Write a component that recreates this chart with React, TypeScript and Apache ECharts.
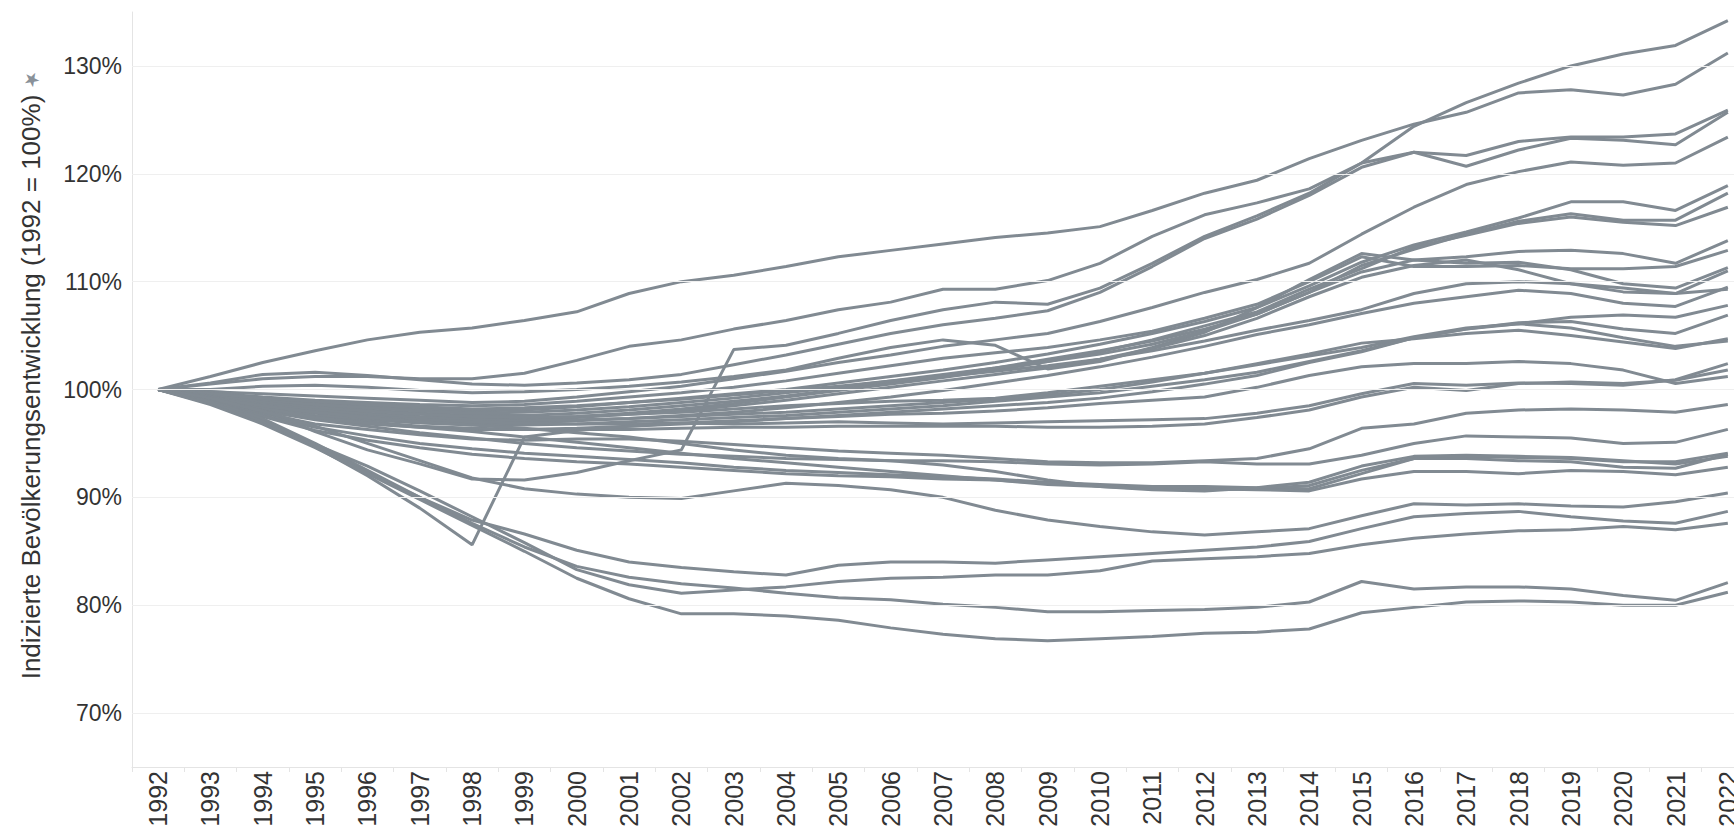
import React, { useEffect, useRef } from "react";
import * as echarts from "echarts";

const years = ["1992","1993","1994","1995","1996","1997","1998","1999","2000","2001","2002","2003","2004","2005","2006","2007","2008","2009","2010","2011","2012","2013","2014","2015","2016","2017","2018","2019","2020","2021","2022"];
const gridValues = [70, 80, 90, 100, 110, 120, 130];

const lineA = [100, 101.2, 102.5, 103.6, 104.6, 105.3, 105.7, 106.4, 107.2, 108.9, 110.0, 110.6, 111.4, 112.3, 112.9, 113.5, 114.1, 114.5, 115.1, 116.6, 118.2, 119.4, 121.4, 123.1, 124.6, 125.7, 127.5, 127.8, 127.3, 128.3, 131.2];
const lineB = [100, 99.3, 98.1, 96.1, 94.4, 93.1, 91.7, 91.6, 92.3, 93.4, 94.4, 103.7, 104.1, 105.2, 106.4, 107.4, 108.1, 107.9, 109.4, 111.7, 114.2, 116.1, 118.2, 121.0, 124.4, 126.6, 128.4, 130.0, 131.1, 131.9, 134.2];
const lineC = [100, 100.5, 101.0, 101.2, 101.2, 101.0, 101.0, 101.5, 102.7, 104.0, 104.6, 105.6, 106.4, 107.4, 108.1, 109.3, 109.3, 110.1, 111.7, 114.2, 116.2, 117.3, 118.6, 121.0, 122.0, 121.7, 123.0, 123.4, 123.4, 123.7, 125.9];
const lineD = [100, 100.6, 101.4, 101.6, 101.3, 100.9, 100.5, 100.4, 100.6, 100.9, 101.4, 102.3, 103.2, 104.2, 105.2, 106.0, 106.6, 107.3, 109.0, 111.4, 114.0, 115.8, 118.0, 120.6, 122.0, 120.7, 122.2, 123.3, 123.1, 122.7, 125.7];
const lineE = [100, 99.8, 99.6, 99.4, 99.2, 99.0, 98.8, 98.9, 99.3, 99.8, 100.3, 101.0, 101.7, 102.5, 103.2, 104.0, 104.6, 105.2, 106.3, 107.6, 109.0, 110.2, 111.7, 114.4, 116.9, 119.0, 120.2, 121.1, 120.8, 121.0, 123.4];
const lineF = [100, 99.6, 99.1, 98.8, 98.5, 98.2, 98.0, 98.1, 98.4, 98.8, 99.2, 99.6, 100.0, 100.6, 101.2, 101.8, 102.5, 103.3, 104.2, 105.2, 106.3, 107.6, 109.6, 111.8, 113.4, 114.6, 115.9, 117.4, 117.4, 116.6, 118.9];
const lineG = [100, 99.5, 98.9, 98.5, 98.1, 97.8, 97.6, 97.6, 97.8, 98.1, 98.5, 98.9, 99.4, 100.0, 100.6, 101.3, 102.0, 102.8, 103.6, 104.5, 105.6, 107.0, 109.0, 111.5, 113.0, 114.4, 115.6, 116.3, 115.7, 115.7, 118.2];
const lineH = [100, 99.4, 98.7, 98.2, 97.8, 97.5, 97.3, 97.3, 97.5, 97.8, 98.2, 98.7, 99.3, 99.9, 100.5, 101.1, 101.8, 102.6, 103.5, 104.6, 105.9, 107.2, 109.3, 111.2, 113.2, 114.3, 115.4, 116.0, 115.5, 115.2, 116.9];
const lineI = [100, 100.0, 100.3, 100.4, 100.2, 99.9, 99.7, 99.8, 100.0, 100.3, 100.7, 101.2, 101.8, 102.9, 103.9, 104.6, 104.1, 101.9, 102.6, 103.9, 105.3, 107.6, 110.2, 112.6, 112.0, 112.3, 112.8, 112.9, 112.6, 111.7, 113.8];
const lineJ = [100, 99.7, 99.3, 99.0, 98.8, 98.6, 98.5, 98.6, 98.9, 99.3, 99.7, 100.2, 100.8, 101.5, 102.2, 102.9, 103.4, 103.9, 104.6, 105.4, 106.6, 107.9, 110.0, 112.3, 111.4, 111.4, 111.5, 111.2, 111.2, 111.4, 112.9];
const lineK = [100, 99.5, 99.0, 98.6, 98.3, 98.0, 97.8, 97.9, 98.1, 98.4, 98.8, 99.2, 99.7, 100.2, 100.8, 101.4, 102.0, 102.6, 103.3, 104.2, 105.4, 107.0, 109.0, 110.9, 112.0, 111.7, 111.8, 111.1, 109.8, 109.4, 111.3];
const lineK2 = [100, 99.3, 98.6, 98.0, 97.6, 97.3, 97.1, 97.2, 97.4, 97.7, 98.0, 98.5, 99.0, 99.6, 100.2, 100.8, 101.4, 102.0, 102.8, 103.8, 105.0, 106.6, 108.6, 110.4, 111.5, 112.0, 111.1, 109.8, 109.4, 108.9, 111.0];
const lineL = [100, 99.2, 98.4, 97.8, 97.4, 97.1, 96.9, 96.9, 97.1, 97.3, 97.6, 97.9, 98.3, 98.8, 99.3, 99.9, 100.6, 101.3, 102.1, 103.0, 104.0, 105.1, 106.0, 107.05, 108.0, 108.6, 109.2, 108.9, 108.0, 107.7, 109.5];
const lineL2 = [100, 99.6, 99.2, 98.9, 98.6, 98.4, 98.2, 98.3, 98.5, 98.8, 99.1, 99.5, 99.9, 100.3, 100.8, 101.2, 101.7, 102.2, 102.8, 103.6, 104.5, 105.5, 106.4, 107.4, 108.9, 109.8, 110.0, 109.8, 109.05, 108.9, 109.3];
const lineM = [100, 99.4, 98.8, 98.3, 98.0, 97.7, 97.5, 97.4, 97.5, 97.7, 97.9, 98.2, 98.5, 98.7, 98.9, 99.0, 99.2, 99.7, 100.3, 100.9, 101.5, 102.3, 103.1, 103.9, 104.9, 105.7, 106.1, 106.7, 106.9, 106.7, 107.8];
const lineN = [100, 99.1, 98.2, 97.6, 97.2, 96.9, 96.7, 96.7, 96.8, 97.0, 97.2, 97.4, 97.6, 97.9, 98.2, 98.5, 98.9, 99.3, 99.7, 100.3, 100.9, 101.6, 102.6, 103.6, 104.8, 105.6, 106.2, 106.3, 105.6, 105.2, 106.9];
const lineO = [100, 99.3, 98.6, 98.1, 97.7, 97.4, 97.2, 97.1, 97.2, 97.3, 97.5, 97.7, 97.9, 98.2, 98.5, 98.8, 99.1, 99.5, 100.0, 100.7, 101.5, 102.4, 103.3, 104.3, 104.7, 105.2, 105.5, 105.0, 104.4, 103.8, 104.7];
const lineO2 = [100, 99.0, 98.0, 97.3, 96.8, 96.5, 96.3, 96.3, 96.4, 96.6, 96.8, 97.0, 97.3, 97.6, 97.9, 98.2, 98.5, 98.8, 99.2, 99.8, 100.5, 101.3, 102.5, 103.5, 104.8, 105.6, 106.1, 105.7, 104.8, 104.0, 104.5];
const lineT1 = [100, 99.2, 98.5, 97.9, 97.5, 97.2, 97.0, 96.9, 96.8, 96.8, 96.9, 96.8, 96.9, 97.0, 96.9, 96.8, 96.9, 97.0, 97.1, 97.2, 97.3, 97.8, 98.5, 99.6, 100.55, 100.4, 100.6, 100.55, 100.4, 100.9, 102.4];
const lineT2 = [100, 99.0, 98.1, 97.4, 97.0, 96.6, 96.4, 96.3, 96.3, 96.3, 96.4, 96.5, 96.5, 96.6, 96.6, 96.6, 96.6, 96.5, 96.5, 96.6, 96.8, 97.4, 98.1, 99.3, 100.2, 99.9, 100.55, 100.7, 100.55, 100.86, 101.8];
const lineT3 = [100, 98.8, 97.1, 94.7, 92.0, 89.0, 85.6, 95.6, 96.2, 96.6, 96.9, 97.1, 97.3, 97.5, 97.7, 97.8, 98.0, 98.3, 98.7, 99.0, 99.3, 100.2, 101.3, 102.1, 102.4, 102.4, 102.6, 102.4, 101.8, 100.55, 101.2];
const lineS1 = [100, 99.0, 97.8, 96.8, 96.3, 95.8, 95.4, 95.3, 95.4, 95.4, 95.2, 94.9, 94.6, 94.3, 94.1, 93.9, 93.6, 93.3, 93.2, 93.2, 93.4, 93.6, 94.5, 96.4, 96.8, 97.8, 98.1, 98.2, 98.1, 97.9, 98.6];
const lineS2 = [100, 99.1, 98.0, 97.2, 96.6, 96.0, 95.5, 95.0, 94.6, 94.3, 94.0, 93.8, 93.6, 93.5, 93.4, 93.4, 93.3, 93.1, 93.0, 93.1, 93.3, 93.1, 93.1, 93.9, 95.0, 95.7, 95.6, 95.5, 95.0, 95.1, 96.3];
const lineS3 = [100, 99.0, 97.6, 96.5, 95.7, 95.0, 94.5, 94.1, 93.8, 93.5, 93.2, 92.8, 92.5, 92.3, 92.1, 91.9, 91.7, 91.4, 91.2, 91.0, 91.0, 90.9, 90.8, 92.2, 93.6, 93.8, 93.7, 93.6, 93.3, 93.3, 94.1];
const lineS4 = [100, 99.3, 98.3, 97.4, 96.9, 96.5, 96.1, 95.6, 95.1, 94.6, 94.1, 93.6, 93.2, 92.8, 92.4, 92.0, 91.6, 91.2, 91.0, 90.8, 90.7, 90.8, 91.1, 92.5, 93.6, 93.6, 93.4, 93.3, 92.8, 92.7, 94.0];
const lineS5 = [100, 98.9, 97.5, 96.2, 95.3, 94.6, 94.0, 93.6, 93.3, 93.1, 92.8, 92.5, 92.2, 92.0, 91.9, 91.7, 91.6, 91.3, 91.1, 90.9, 90.8, 90.7, 90.6, 91.7, 92.4, 92.4, 92.2, 92.5, 92.4, 92.1, 92.8];
const lineS6 = [100, 99.2, 98.5, 97.9, 97.4, 97.0, 96.7, 96.4, 96.0, 95.6, 95.0, 94.4, 93.9, 93.6, 93.4, 93.0, 92.4, 91.6, 91.0, 90.7, 90.6, 90.9, 91.4, 92.9, 93.8, 93.9, 93.8, 93.7, 93.4, 93.1, 93.8];
const lineR1 = [100, 99.2, 98.0, 96.6, 95.0, 93.4, 91.8, 90.8, 90.3, 90.0, 89.9, 90.6, 91.3, 91.1, 90.7, 90.0, 88.8, 87.9, 87.3, 86.8, 86.5, 86.8, 87.1, 88.3, 89.4, 89.3, 89.4, 89.2, 89.1, 89.6, 90.4];
const lineQ1 = [100, 98.9, 97.3, 95.0, 92.5, 90.0, 87.9, 86.6, 85.1, 84.0, 83.5, 83.1, 82.8, 83.7, 84.0, 84.0, 83.9, 84.2, 84.5, 84.8, 85.1, 85.4, 85.9, 87.1, 88.2, 88.5, 88.7, 88.2, 87.8, 87.6, 88.7];
const lineQ2 = [100, 98.7, 96.9, 94.9, 92.9, 90.6, 88.2, 85.8, 83.3, 81.9, 81.1, 81.4, 81.7, 82.2, 82.5, 82.6, 82.8, 82.8, 83.2, 84.1, 84.3, 84.5, 84.8, 85.6, 86.2, 86.6, 86.9, 87.0, 87.3, 87.0, 87.6];
const lineP1 = [100, 98.8, 97.0, 94.8, 92.3, 90.0, 87.6, 85.4, 83.6, 82.6, 82.0, 81.6, 81.1, 80.7, 80.5, 80.1, 79.8, 79.4, 79.4, 79.5, 79.6, 79.8, 80.3, 82.2, 81.5, 81.7, 81.7, 81.5, 80.9, 80.45, 82.1];
const lineP2 = [100, 98.6, 96.8, 94.6, 92.2, 89.8, 87.4, 85.0, 82.5, 80.6, 79.2, 79.2, 79.0, 78.6, 77.9, 77.3, 76.9, 76.7, 76.9, 77.1, 77.4, 77.5, 77.8, 79.3, 79.8, 80.3, 80.4, 80.3, 80.0, 80.0, 81.2];

const allLines = [lineA, lineB, lineC, lineD, lineE, lineF, lineG, lineH, lineI, lineJ, lineK, lineK2, lineL, lineL2, lineM, lineN, lineO, lineO2, lineT1, lineT2, lineT3, lineS1, lineS2, lineS3, lineS4, lineS5, lineS6, lineR1, lineQ1, lineQ2, lineP1, lineP2];

const FONT = "'Liberation Sans', Arial, sans-serif";
const LINE_COLOR = "#818a92";
const TEXT_COLOR = "#333333";

export default function App() {
  const ref = useRef<HTMLDivElement>(null);
  useEffect(() => {
    if (!ref.current) return;
    const chart = echarts.init(ref.current, null, { renderer: "svg" });
    const series: any[] = [
      {
        type: "line",
        data: [],
        silent: true,
        z: 1,
        markLine: {
          silent: true,
          symbol: ["none", "none"],
          label: { show: false },
          lineStyle: { color: "#efefef", width: 1, type: "solid" },
          data: gridValues.map((v) => ({ yAxis: v })),
        },
      },
    ];
    allLines.forEach((d, i) => {
      series.push({
        type: "line",
        name: "s" + i,
        data: d,
        symbol: "none",
        silent: true,
        z: 2,
        lineStyle: { color: LINE_COLOR, width: 3 },
      });
    });
    chart.setOption({
      animation: false,
      backgroundColor: "#ffffff",
      grid: { left: 132, right: 6, top: 12, bottom: 62, containLabel: false, outerBoundsMode: "none" },
      xAxis: {
        type: "category",
        data: years,
        boundaryGap: true,
        axisLine: { show: true, lineStyle: { color: "#e4e4e4", width: 1 } },
        axisTick: { show: true, length: 5, lineStyle: { color: "#e4e4e4" } },
        axisLabel: {
          rotate: 90,
          margin: 4,
          fontFamily: FONT,
          fontSize: 25,
          color: TEXT_COLOR,
        },
        splitLine: { show: false },
      },
      yAxis: {
        type: "value",
        min: 65,
        max: 135,
        interval: 5,
        axisLine: { show: true, lineStyle: { color: "#e4e4e4", width: 1 } },
        axisTick: { show: false },
        splitLine: { show: false },
        axisLabel: {
          margin: 10,
          fontFamily: FONT,
          fontSize: 23,
          color: TEXT_COLOR,
          formatter: (v: number) => (Math.round(v) % 10 === 0 ? Math.round(v) + "%" : ""),
        },
      },
      graphic: [
        {
          type: "text",
          x: 31,
          y: 387,
          rotation: Math.PI / 2,
          style: {
            text: "Indizierte Bevölkerungsentwicklung (1992 = 100%)",
            fontFamily: FONT,
            fontSize: 26,
            fill: TEXT_COLOR,
            textAlign: "center",
            textVerticalAlign: "middle",
          },
        },
        {
          type: "text",
          x: 31,
          y: 79,
          rotation: Math.PI / 4,
          style: {
            text: "★",
            fontSize: 19,
            fill: "#8a9199",
            textAlign: "center",
            textVerticalAlign: "middle",
          },
        },
      ],
      series,
    });
    return () => chart.dispose();
  }, []);
  return (
    <div
      style={{
        position: "fixed",
        left: 0,
        top: 0,
        width: 1734,
        height: 829,
        overflow: "hidden",
        background: "#ffffff",
      }}
    >
      <div ref={ref} style={{ width: 1760, height: 829 }} />
    </div>
  );
}
